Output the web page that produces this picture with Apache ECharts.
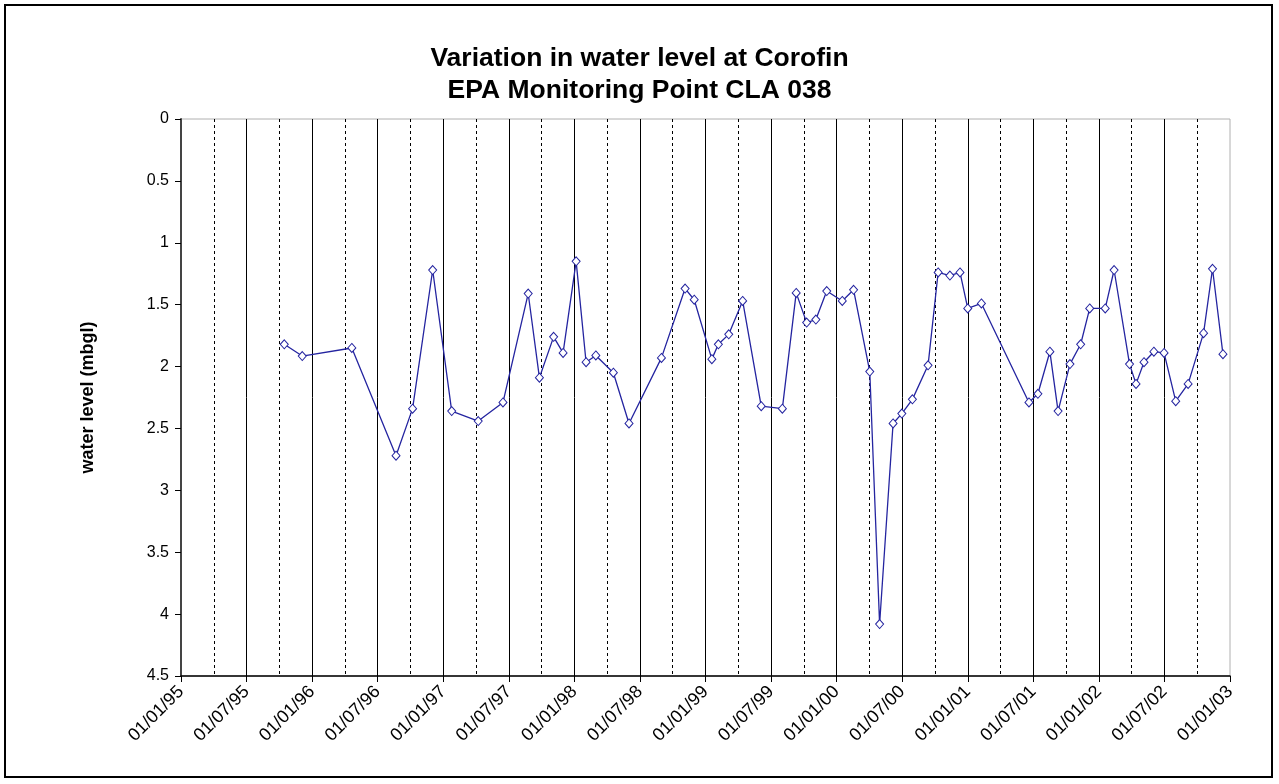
<!DOCTYPE html>
<html>
<head>
<meta charset="utf-8">
<script src="https://cdn.jsdelivr.net/npm/echarts@6/dist/echarts.min.js"></script>
<style>
html,body{margin:0;padding:0;background:#fff;}
#chart{width:1279px;height:784px;}
</style>
</head>
<body>
<div id="chart"></div>
<script>
// ---- data ----
const titleLines = ['Variation in water level at Corofin', 'EPA Monitoring Point CLA 038'];
const yAxisName = 'water level (mbgl)';
const dates = [
  '1995-10-15','1995-12-04','1996-04-20','1996-08-22','1996-10-07','1996-12-02',
  '1997-01-25','1997-04-07','1997-06-15','1997-08-25','1997-09-25','1997-11-04',
  '1997-11-30','1998-01-06','1998-02-03','1998-02-28','1998-04-18','1998-06-01',
  '1998-08-31','1998-11-05','1998-11-30','1999-01-19','1999-02-06','1999-03-05',
  '1999-04-13','1999-06-04','1999-08-02','1999-09-10','1999-10-09','1999-11-04',
  '1999-12-04','2000-01-17','2000-02-17','2000-04-02','2000-04-29','2000-06-06',
  '2000-06-30','2000-07-30','2000-09-12','2000-10-10','2000-11-12','2000-12-10',
  '2001-01-01','2001-02-08','2001-06-19','2001-07-14','2001-08-17','2001-09-09',
  '2001-10-12','2001-11-11','2001-12-06','2002-01-19','2002-02-12','2002-03-26',
  '2002-04-13','2002-05-05','2002-06-02','2002-06-30','2002-08-02','2002-09-06',
  '2002-10-19','2002-11-13','2002-12-12'
];
const levels = [
  1.82,1.915,1.85,2.72,2.34,1.22,
  2.36,2.44,2.29,1.41,2.09,1.76,
  1.89,1.15,1.965,1.91,2.05,2.46,
  1.93,1.37,1.46,1.94,1.82,1.74,
  1.47,2.32,2.34,1.405,1.645,1.62,
  1.39,1.47,1.38,2.04,4.08,2.46,
  2.38,2.265,1.99,1.24,1.265,1.24,
  1.53,1.49,2.29,2.22,1.88,2.36,
  1.98,1.82,1.53,1.53,1.22,1.98,
  2.14,1.965,1.88,1.89,2.28,2.14,
  1.73,1.21,1.90
];
const yTicks = [0,0.5,1,1.5,2,2.5,3,3.5,4,4.5];
const xStartYear = 1995, xEndYear = 2003; // axis spans 01/01/95 .. 01/01/03

// month position since Jan of start year (fractional)
function monthPos(s){
  const [y,m,d] = s.split('-').map(Number);
  const dim = new Date(y, m, 0).getDate();
  return (y - xStartYear)*12 + (m-1) + (d-1)/dim;
}
function pad(n){ return (n<10?'0':'') + n; }
function monthLabel(v){
  const idx = Math.round(v);
  const yr = xStartYear + Math.floor(idx/12);
  const mo = idx % 12 + 1;
  return '01/' + pad(mo) + '/' + pad(yr % 100);
}

const seriesData = dates.map((d,i)=>[monthPos(d), levels[i]]);

const chart = echarts.init(document.getElementById('chart'), null, {renderer:'canvas'});
const FONT = 'Liberation Sans, Arial, sans-serif';
chart.setOption({
  animation:false,
  backgroundColor:'#fff',
  textStyle:{fontFamily:FONT},
  title:{
    text: titleLines.join('\n'),
    left:'center', top:38,
    textStyle:{fontSize:26.5, fontWeight:'bold', color:'#000', fontFamily:FONT, lineHeight:32}
  },
  graphic:[{
    type:'rect', shape:{x:5,y:5,width:1267,height:772},
    style:{fill:null, stroke:'#000', lineWidth:2}, silent:true, z:100
  }],
  grid:{left:181, right:49, top:119, bottom:108, show:true, borderColor:'#b0b0b0', borderWidth:1, backgroundColor:'transparent'},
  xAxis:{
    type:'value', min:0, max:(xEndYear-xStartYear)*12, interval:6,
    axisLine:{show:true, onZero:false, lineStyle:{color:'#000', width:1.5}},
    axisTick:{show:true, length:6, lineStyle:{color:'#000'}},
    minorTick:{show:false, splitNumber:2},
    axisLabel:{rotate:45, fontSize:18, color:'#000', margin:13, formatter:monthLabel, showMaxLabel:true, showMinLabel:true},
    splitLine:{show:true, showMinLine:false, showMaxLine:false, lineStyle:{color:'#000', width:1}},
    minorSplitLine:{show:true, lineStyle:{color:'#000', width:1, type:[3,3]}}
  },
  yAxis:{
    type:'value', inverse:true, min:yTicks[0], max:yTicks[yTicks.length-1], interval:0.5,
    name:yAxisName, nameLocation:'middle', nameGap:84, nameRotate:90,
    nameTextStyle:{fontSize:18, fontWeight:'bold', color:'#000'},
    axisLine:{show:true, onZero:false, lineStyle:{color:'#444', width:2}},
    axisTick:{show:true, length:6, lineStyle:{color:'#000'}},
    axisLabel:{fontSize:16, color:'#000', margin:12},
    splitLine:{show:false}
  },
  series:[{
    type:'line', data:seriesData,
    lineStyle:{color:'#2424a0', width:1.3},
    symbol:'diamond', symbolSize:[8,9],
    itemStyle:{color:'#fff', borderColor:'#2424a0', borderWidth:1},
    showAllSymbol:true
  }]
});
</script>
</body>
</html>
